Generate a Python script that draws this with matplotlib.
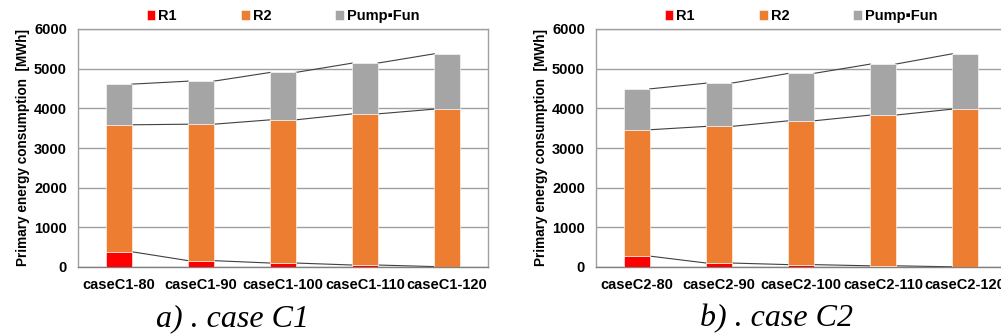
import numpy as np
import matplotlib.pyplot as plt

# data (MWh)
cases_c1 = ['caseC1-80', 'caseC1-90', 'caseC1-100', 'caseC1-110', 'caseC1-120']
r1_c1 = [385, 160, 100, 50, 10]
r2_c1 = [3200, 3440, 3610, 3810, 3970]
pump_c1 = [1025, 1085, 1195, 1280, 1395]

cases_c2 = ['caseC2-80', 'caseC2-90', 'caseC2-100', 'caseC2-110', 'caseC2-120']
r1_c2 = [275, 100, 60, 30, 5]
r2_c2 = [3185, 3445, 3625, 3800, 3975]
pump_c2 = [1030, 1090, 1195, 1285, 1395]

series_names = ['R1', 'R2', 'Pump\u25aaFun']
colors = ['#FF0000', '#ED7D31', '#A5A5A5']

plt.rcParams['font.family'] = ['Liberation Sans', 'DejaVu Sans']

fig = plt.figure(figsize=(10.01, 3.34), dpi=100)
W, H = 1001, 334


def draw(ax, cases, r1, r2, pump, caption, cx):
    x = np.arange(len(cases))
    w = 0.31
    bottom = np.zeros(len(cases))
    tops = []
    for vals, c, name in zip([r1, r2, pump], colors, series_names):
        ax.bar(x, vals, w, bottom=bottom, color=c, edgecolor='white',
               linewidth=0.4, label=name, zorder=3)
        bottom = bottom + np.array(vals)
        tops.append(bottom.copy())
    # series lines between bars
    for t in tops:
        for i in range(len(cases) - 1):
            ax.plot([x[i] + w / 2, x[i + 1] - w / 2], [t[i], t[i + 1]],
                    color='#404040', lw=0.8, zorder=2)
    ax.set_xlim(-0.5, len(cases) - 0.5)
    ax.set_ylim(0, 6000)
    ax.set_yticks(range(0, 6001, 1000))
    ax.set_xticks(x)
    ax.set_xticklabels(cases, fontsize=10.5, fontweight='bold')
    for lb in ax.get_yticklabels():
        lb.set_fontsize(10.5)
        lb.set_fontweight('bold')
    ax.tick_params(axis='y', length=0, pad=8)
    ax.tick_params(axis='x', length=0, pad=8)
    ax.grid(axis='y', color='#A0A0A0', lw=1, zorder=0)
    for s in ax.spines.values():
        s.set_color('#A0A0A0')
        s.set_linewidth(1)
    ax.spines['bottom'].set_color('#808080')
    ax.set_ylabel('Primary energy consumption  [MWh]', fontsize=9.8,
                  fontweight='bold', labelpad=3)
    ax.legend(loc='lower center', bbox_to_anchor=(0.5, 1.0), ncol=3,
              frameon=False, prop={'weight': 'bold', 'size': 10.5},
              handlelength=0.6, handleheight=0.6, handletextpad=0.2,
              columnspacing=4.4, borderaxespad=0.0)
    fig.text(cx / W, 0.003, caption, fontsize=23, style='italic',
             family='Liberation Serif', ha='center', va='bottom')


ax1 = fig.add_axes([78 / W, 67 / H, 410 / W, 238 / H])
draw(ax1, cases_c1, r1_c1, r2_c1, pump_c1, 'a) . case C1', 233)
ax2 = fig.add_axes([596 / W, 67 / H, 410 / W, 238 / H])
draw(ax2, cases_c2, r1_c2, r2_c2, pump_c2, 'b) . case C2', 777)

fig.savefig('out.png', dpi=100)
